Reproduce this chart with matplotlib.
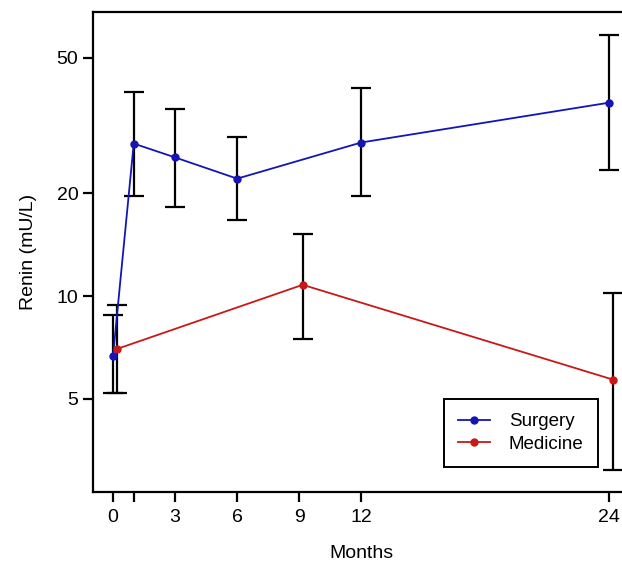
import matplotlib

matplotlib.use("Agg")
import matplotlib.pyplot as plt
from matplotlib.ticker import FixedLocator, NullLocator, FixedFormatter

plt.rcParams["font.family"] = ["Liberation Sans", "DejaVu Sans"]

# Renin (mU/L) over follow-up
surgery_months = [0, 1, 3, 6, 12, 24]
surgery_renin = [6.7, 28.0, 25.5, 22.1, 28.2, 36.9]
surgery_lo = [5.2, 19.7, 18.3, 16.7, 19.7, 23.5]
surgery_hi = [8.8, 39.7, 35.4, 29.3, 40.8, 58.1]

medicine_months = [0, 9, 24]
medicine_renin = [7.0, 10.8, 5.7]
medicine_lo = [5.2, 7.5, 3.1]
medicine_hi = [9.4, 15.2, 10.2]

x_ticks = [0, 1, 3, 6, 9, 12, 24]
x_labels = ["0", "", "3", "6", "9", "12", "24"]
y_ticks = [5, 10, 20, 50]

BLUE = "#1414b8"
RED = "#c81818"
DODGE = 0.17  # medicine is drawn a touch to the right


def _errs(vals, lo, hi):
    return [[v - l for v, l in zip(vals, lo)], [h - v for v, h in zip(vals, hi)]]


fig = plt.figure(figsize=(6.22, 5.70), dpi=100)
ax = fig.add_axes([93 / 622, 78 / 570, 537 / 622, 480 / 570])

med_x = [m + DODGE for m in medicine_months]

ax.errorbar(surgery_months, surgery_renin, yerr=_errs(surgery_renin, surgery_lo, surgery_hi),
            fmt="none", ecolor="black", elinewidth=1.6, capsize=7, capthick=1.6, zorder=2)
ax.errorbar(med_x, medicine_renin, yerr=_errs(medicine_renin, medicine_lo, medicine_hi),
            fmt="none", ecolor="black", elinewidth=1.6, capsize=7, capthick=1.6, zorder=2)

ax.plot(surgery_months, surgery_renin, "-o", color=BLUE, linewidth=1.3,
        markersize=5, label="Surgery", zorder=3)
ax.plot(med_x, medicine_renin, "-o", color=RED, linewidth=1.3,
        markersize=5, label="Medicine", zorder=3)

ax.set_yscale("log")
ax.set_ylim(2.67, 68)
ax.set_xlim(-0.97, 25.0)
ax.yaxis.set_major_locator(FixedLocator(y_ticks))
ax.yaxis.set_major_formatter(FixedFormatter([str(v) for v in y_ticks]))
ax.yaxis.set_minor_locator(NullLocator())
ax.set_xticks(x_ticks)
ax.set_xticklabels(x_labels)

for s in ax.spines.values():
    s.set_linewidth(1.6)
ax.tick_params(axis="both", length=7, width=1.6, labelsize=14, colors="black")
ax.tick_params(axis="x", pad=5)

ax.set_xlabel("Months", fontsize=14, labelpad=14)
ax.set_ylabel("Renin (mU/L)", fontsize=14, labelpad=14)

leg = ax.legend(loc="upper left", bbox_to_anchor=(444 / 622, 1 - 399 / 570),
                bbox_transform=fig.transFigure, frameon=True, fancybox=False,
                framealpha=1, edgecolor="black", fontsize=13.5, handlelength=1.7,
                borderpad=0.75, borderaxespad=0, labelspacing=0.3, handletextpad=1.0)
leg.get_frame().set_linewidth(1.4)

fig.savefig("out.png", dpi=100)
